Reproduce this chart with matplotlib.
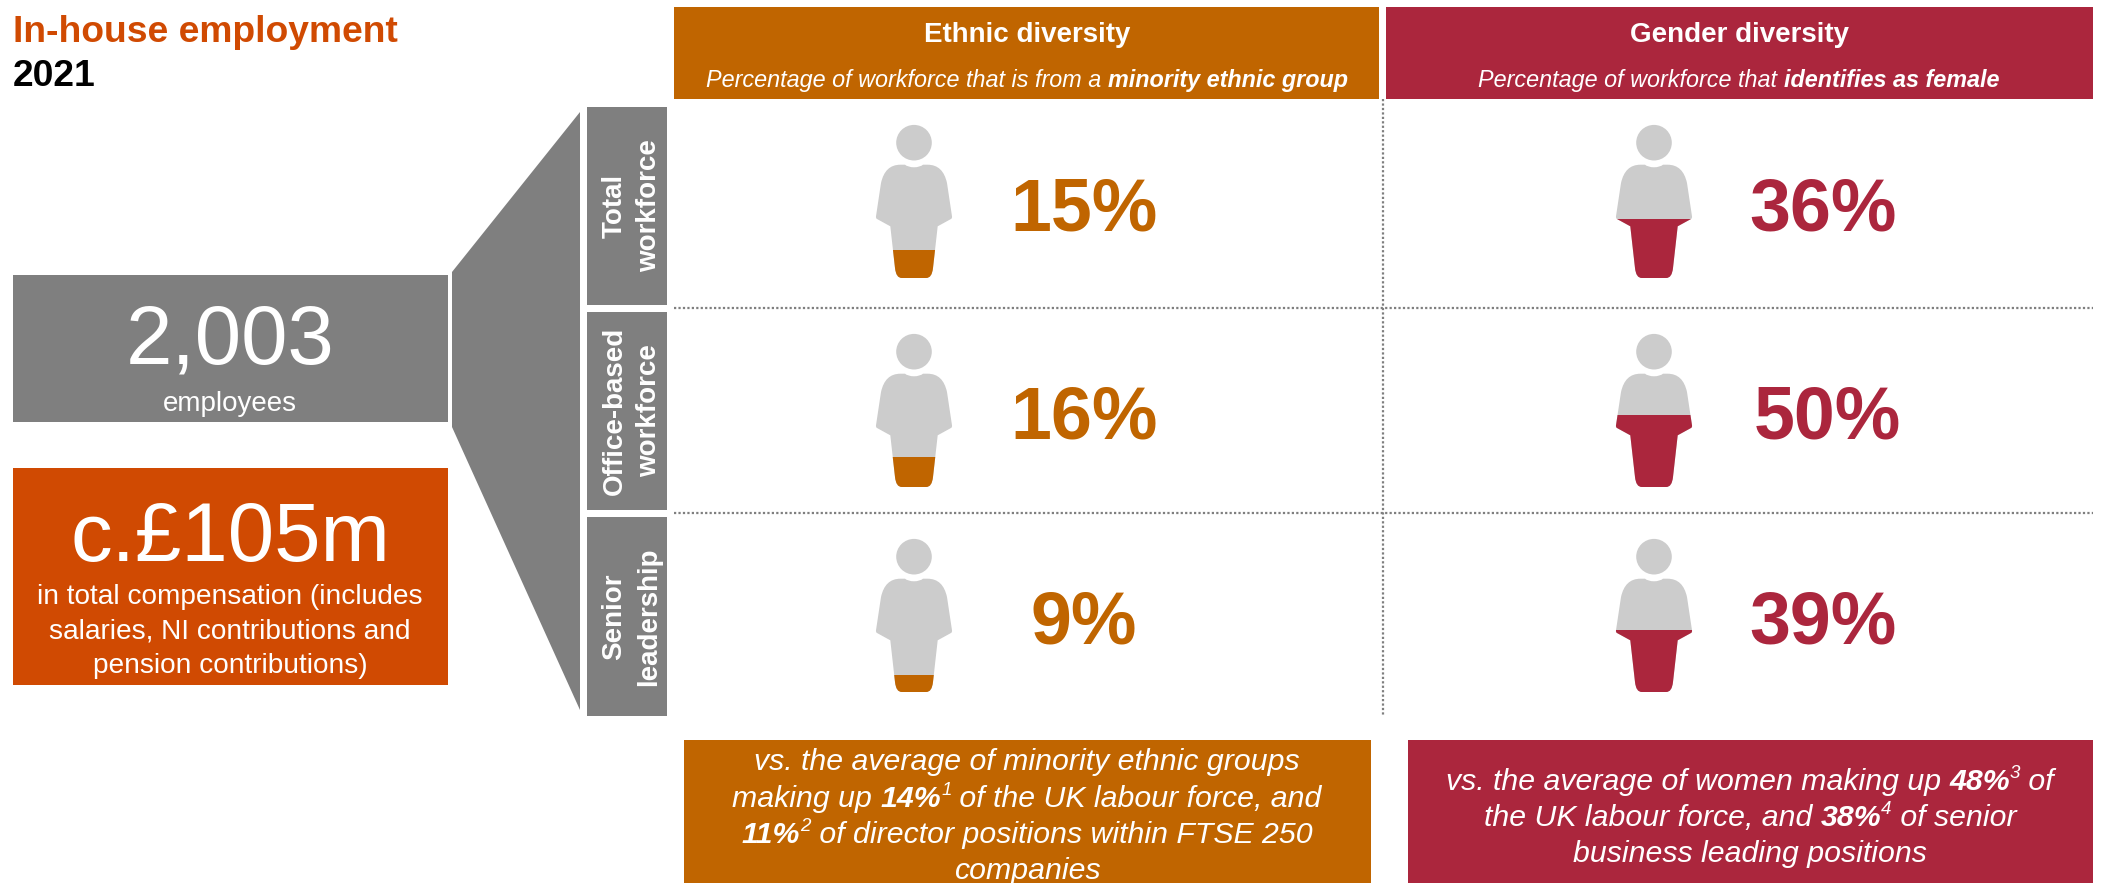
import numpy as np
import matplotlib
matplotlib.use("Agg")
import matplotlib.pyplot as plt
from matplotlib.patches import Circle, PathPatch, Polygon, Rectangle
from matplotlib.path import Path

plt.rcParams["font.family"] = ["Liberation Sans", "DejaVu Sans"]

GREY = "#7F7F7F"
ORANGE = "#D04A02"
AMBER = "#C06500"
RED = "#AB263D"
ICON = "#CCCCCC"

row_labels = ["Total\nworkforce", "Office-based\nworkforce", "Senior\nleadership"]
ethnic_pct = [15, 16, 9]
gender_pct = [36, 50, 39]

W, H = 2101, 883
fig = plt.figure(figsize=(W / 100, H / 100), dpi=100)
ax = fig.add_axes([0, 0, 1, 1])
ax.set_xlim(0, W)
ax.set_ylim(H, 0)
ax.axis("off")


def box(x0, y0, x1, y1, color):
    ax.add_patch(Rectangle((x0, y0), x1 - x0, y1 - y0, fc=color, ec="none"))


def label(x, y, s, size, color="white", **kw):
    kw.setdefault("ha", "center")
    kw.setdefault("va", "center")
    return ax.text(x, y, s, fontsize=size, color=color, **kw)


def run_width(s, size, weight, style):
    # padding with x keeps spaces at the ends of a run in the measurement
    r = fig.canvas.get_renderer()
    a = ax.text(0, 0, "x" + s + "x", fontsize=size, fontweight=weight, fontstyle=style)
    b = ax.text(0, 0, "xx", fontsize=size, fontweight=weight, fontstyle=style)
    w = a.get_window_extent(r).width - b.get_window_extent(r).width
    a.remove()
    b.remove()
    return w


def mixed_line(cx, y, runs, size):
    # runs are (text, kind) with kind n = italic, b = bold italic, s = superscript
    sizes = {"n": size, "b": size, "s": size * 0.62}
    weights = {"n": "normal", "b": "bold", "s": "normal"}
    widths = [run_width(s, sizes[k], weights[k], "italic") for s, k in runs]
    x = cx - sum(widths) / 2
    for (s, k), w in zip(runs, widths):
        off = -size * 0.55 if k == "s" else 0
        ax.text(x, y + off, s, fontsize=sizes[k], fontweight=weights[k], fontstyle="italic",
                color="white", ha="left", va="baseline")
        x += w


# person icon, offsets in pixels from the middle of the feet
side = [(0, -110.7), (6, -110.7), (9, -113.3), (13.7, -113.3), (29, -113.3), (33, -95),
        (38, -61.7), (38.3, -59.6), (37, -59), (23.7, -51.7), (19, -10), (18, 0), (12.3, 0)]
side_codes = [Path.MOVETO, Path.CURVE3, Path.CURVE3, Path.LINETO, Path.CURVE3, Path.CURVE3,
              Path.LINETO, Path.CURVE3, Path.CURVE3, Path.LINETO, Path.LINETO, Path.CURVE3, Path.CURVE3]
HEAD_Y, HEAD_R = -135.3, 17.8


def body_path(cx, base):
    left = [(-x, y) for x, y in side[::-1]]
    left_codes = [Path.LINETO]
    for c in side_codes[::-1][:-1]:
        left_codes.append(c)
    verts = side + left + [side[0]]
    codes = side_codes + left_codes + [Path.CLOSEPOLY]
    verts = [(cx + x, base + y) for x, y in verts]
    return Path(verts, codes)


def fill_level(pct):
    # height above the feet that holds pct of the silhouette's area
    step = 0.25
    xs = np.arange(-45, 45, step)
    ys = np.arange(-155, 0.5, step)
    gx, gy = np.meshgrid(xs, ys)
    pts = np.column_stack([gx.ravel(), gy.ravel()])
    mask = body_path(0, 0).contains_points(pts).reshape(gx.shape)
    mask |= gx**2 + (gy - HEAD_Y)**2 <= HEAD_R**2
    row_area = mask.sum(axis=1)[::-1]
    share = np.cumsum(row_area) / row_area.sum()
    return ys[::-1][np.searchsorted(share, pct / 100)]


def person(cx, base, pct, color):
    ax.add_patch(Circle((cx, base + HEAD_Y), HEAD_R, fc=ICON, ec="none"))
    path = body_path(cx, base)
    outline = PathPatch(path, fc=ICON, ec="none")
    ax.add_patch(outline)
    level = base + fill_level(pct)
    part = Rectangle((cx - 50, level), 100, base - level + 2, fc=color, ec="none")
    ax.add_patch(part)
    part.set_clip_path(outline)


# headline
label(13, 42, "In-house employment", 26.85, ORANGE, ha="left", va="baseline", fontweight="bold")
label(13, 86, "2021", 26.85, "black", ha="left", va="baseline", fontweight="bold")

# left hand boxes
box(13, 275, 448, 422, GREY)
label(230, 341, "2,003", 60)
label(230, 404, "employees", 20)
box(13, 468, 448, 685, ORANGE)
label(230, 539, "c.£105m", 60)
label(230, 597, "in total compensation (includes", 20.2)
label(230, 631, "salaries, NI contributions and", 20.2)
label(230, 666, "pension contributions)", 20.2)

# funnel
ax.add_patch(Polygon([(452, 272), (580, 112), (580, 710), (452, 427)], fc=GREY, ec="none"))

# row headers
row_tops = [107, 312, 517]
row_bottoms = [305, 510, 716]
for top, bottom, name in zip(row_tops, row_bottoms, row_labels):
    box(587, top, 667, bottom, GREY)
    label(632, (top + bottom) / 2, name, 20, rotation=90, fontweight="bold", linespacing=1.44,
          multialignment="center")

# column headers
box(674, 7, 1379, 99, AMBER)
box(1386, 7, 2093, 99, RED)
label(1027, 35, "Ethnic diversity", 20, fontweight="bold")
label(1739, 35, "Gender diversity", 20, fontweight="bold")
mixed_line(1027, 87, [("Percentage of workforce that is from a ", "n"), ("minority ethnic group", "b")], 16.8)
mixed_line(1739, 87, [("Percentage of workforce that ", "n"), ("identifies as female", "b")], 16.8)

# dividers
ax.plot([674, 2093], [308, 308], color="#7F7F7F", lw=1.6, ls=(0, (1, 1)))
ax.plot([674, 2093], [513, 513], color="#7F7F7F", lw=1.6, ls=(0, (1, 1)))
ax.plot([1383, 1383], [99, 716], color="#7F7F7F", lw=1.6, ls=(0, (1, 1)))

# icons and percentages
bases = [278, 487, 692]
text_ys = [211, 419, 624]
gender_xs = [1823, 1827, 1823]
for i in range(3):
    person(914, bases[i], ethnic_pct[i], AMBER)
    person(1654, bases[i], gender_pct[i], RED)
    label(1084, text_ys[i], "%d%%" % ethnic_pct[i], 53, AMBER, fontweight="bold")
    label(gender_xs[i], text_ys[i], "%d%%" % gender_pct[i], 53, RED, fontweight="bold")

# comparison boxes
box(684, 740, 1371, 883, AMBER)
box(1408, 740, 2093, 883, RED)
mixed_line(1027, 770, [("vs. the average of minority ethnic groups", "n")], 21.8)
mixed_line(1027, 807, [("making up ", "n"), ("14%", "b"), ("1", "s"), (" of the UK labour force, and", "n")], 21.8)
mixed_line(1027, 843, [("11%", "b"), ("2", "s"), (" of director positions within FTSE 250", "n")], 21.8)
mixed_line(1027, 879, [("companies", "n")], 21.8)
mixed_line(1750, 790, [("vs. the average of women making up ", "n"), ("48%", "b"), ("3", "s"), (" of", "n")], 21.8)
mixed_line(1750, 826, [("the UK labour force, and ", "n"), ("38%", "b"), ("4", "s"), (" of senior", "n")], 21.8)
mixed_line(1750, 862, [("business leading positions", "n")], 21.8)

fig.savefig("out.png", dpi=100)
